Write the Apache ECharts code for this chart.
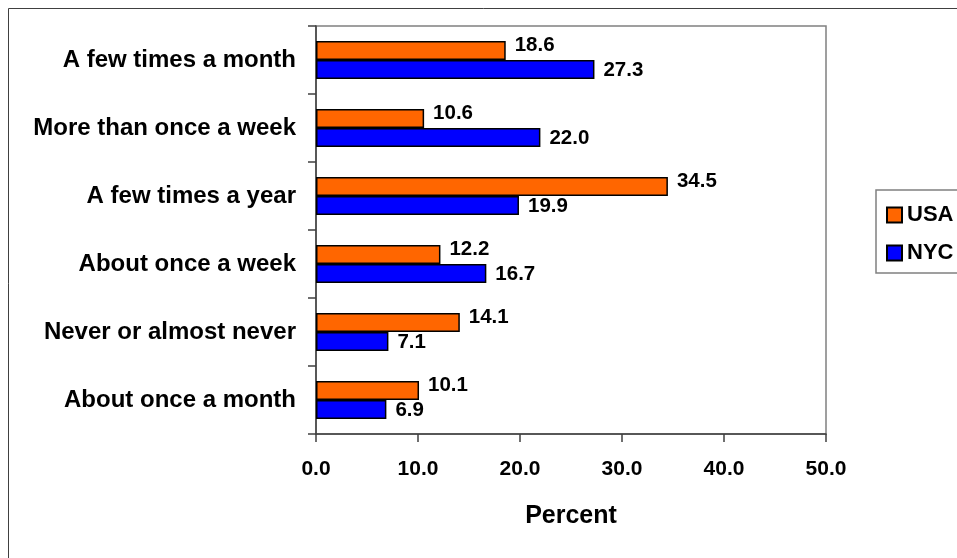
<!DOCTYPE html>
<html>
<head>
<meta charset="utf-8">
<script src="https://cdn.jsdelivr.net/npm/echarts@6/dist/echarts.min.js"></script>
<style>
  html, body { margin: 0; padding: 0; background: #fff; }
  #chart { width: 957px; height: 558px; }
</style>
</head>
<body>
<div id="chart"></div>
<script>
// Frequency categories, listed top to bottom
const categories = [
  'A few times a month',
  'More than once a week',
  'A few times a year',
  'About once a week',
  'Never or almost never',
  'About once a month'
];
const usaValues = [18.6, 10.6, 34.5, 12.2, 14.1, 10.1];
const nycValues = [27.3, 22.0, 19.9, 16.7, 7.1, 6.9];
const xTicks = { min: 0, max: 50, interval: 10 };

const FONT = '"Liberation Sans", Arial, sans-serif';
const chart = echarts.init(document.getElementById('chart'), null, { renderer: 'canvas' });

const valueLabel = (offsetY) => ({
  show: true,
  position: 'right',
  distance: 9,
  offset: [0, offsetY],
  color: '#000',
  fontFamily: FONT,
  fontWeight: 'bold',
  fontSize: 20.5,
  formatter: (p) => p.value.toFixed(1)
});

chart.setOption({
  animation: false,
  backgroundColor: '#fff',
  textStyle: { fontFamily: FONT },
  graphic: [{
    type: 'rect',
    shape: { x: 8.5, y: 8.5, width: 1000, height: 600 },
    style: { fill: 'none', stroke: '#404040', lineWidth: 1 },
    silent: true, z: -10
  }],
  grid: {
    left: 316, top: 26, right: 131, bottom: 124,
    show: true, borderColor: '#808080', borderWidth: 1.5,
    containLabel: false
  },
  legend: {
    orient: 'vertical',
    left: 876, top: 190,
    padding: [14, 40, 9, 10],
    borderColor: '#808080', borderWidth: 1.5,
    itemWidth: 15, itemHeight: 15, itemGap: 16,
    data: ['USA', 'NYC'],
    textStyle: { color: '#000', fontFamily: FONT, fontWeight: 'bold', fontSize: 22 },
    icon: 'rect'
  },
  xAxis: {
    type: 'value',
    min: xTicks.min, max: xTicks.max, interval: xTicks.interval,
    name: 'Percent',
    nameLocation: 'middle',
    nameGap: 70,
    nameTextStyle: { color: '#000', fontFamily: FONT, fontWeight: 'bold', fontSize: 25 },
    axisLine: { show: true, lineStyle: { color: '#404040', width: 1.5 } },
    axisTick: { show: true, length: 8, lineStyle: { color: '#404040', width: 1.5 } },
    axisLabel: {
      margin: 25, color: '#000', fontFamily: FONT, fontWeight: 'bold', fontSize: 21,
      formatter: (v) => v.toFixed(1)
    },
    splitLine: { show: false }
  },
  yAxis: {
    type: 'category',
    inverse: true,
    data: categories,
    axisLine: { show: true, lineStyle: { color: '#404040', width: 1.5 } },
    axisTick: { show: true, length: 8, lineStyle: { color: '#404040', width: 1.5 } },
    axisLabel: { margin: 20, color: '#000', fontFamily: FONT, fontWeight: 'bold', fontSize: 24 }
  },
  series: [
    {
      name: 'USA', type: 'bar', data: usaValues,
      barGap: '0%', barCategoryGap: '44%',
      itemStyle: { color: '#FF6600', borderColor: '#000', borderWidth: 1.5 },
      label: valueLabel(-5)
    },
    {
      name: 'NYC', type: 'bar', data: nycValues,
      barGap: '0%', barCategoryGap: '44%',
      itemStyle: { color: '#0000FF', borderColor: '#000', borderWidth: 1.5 },
      label: valueLabel(1)
    }
  ]
});
</script>
</body>
</html>
